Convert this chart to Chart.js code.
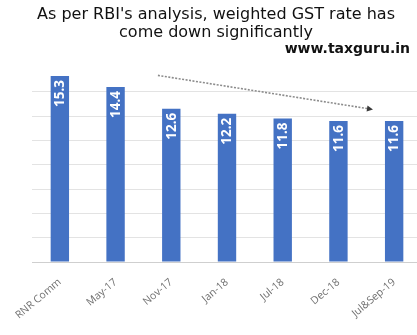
<!DOCTYPE html>
<html>
<head>
<meta charset="utf-8">
<script src="https://cdn.jsdelivr.net/npm/chart.js@4/dist/chart.umd.min.js"></script>
<style>
  html, body { margin: 0; padding: 0; background: #ffffff; overflow: hidden; }
  #wrap { position: relative; width: 417px; height: 335px; overflow: hidden; }
  #wrap canvas { position: absolute; left: 0; top: 0; }
</style>
</head>
<body>
<div id="wrap"><canvas id="c" width="422" height="335"></canvas></div>
<script>
// ---- data ----
const categories = ['RNR Comm', 'May-17', 'Nov-17', 'Jan-18', 'Jul-18', 'Dec-18', 'Jul&Sep-19'];
const rates = [15.3, 14.4, 12.6, 12.2, 11.8, 11.6, 11.6];
const titleLines = ["As per RBI's analysis, weighted GST rate has", 'come down significantly'];
const watermark = 'www.taxguru.in';
const yTicks = [0, 2, 4, 6, 8, 10, 12, 14, 16];
// trend arrow endpoints in data coordinates [category index, value]
const arrowStart = [1.76, 15.35];
const arrowEnd = [5.62, 12.55];

const TITLE_FONT = 'Verdana, "DejaVu Sans", sans-serif';
const SANS = '"Noto Sans", sans-serif';

const barLabels = {
  id: 'barLabels',
  afterDatasetsDraw(chart) {
    const ctx = chart.ctx;
    const meta = chart.getDatasetMeta(0);
    ctx.save();
    ctx.fillStyle = '#ffffff';
    ctx.font = 'bold 13.5px ' + SANS;
    ctx.textAlign = 'right';
    ctx.textBaseline = 'middle';
    meta.data.forEach((bar, i) => {
      ctx.save();
      ctx.translate(bar.x + 0.5, bar.y + 4);
      ctx.rotate(-Math.PI / 2);
      ctx.fillText(rates[i].toFixed(1), 0, 0);
      ctx.restore();
    });
    ctx.restore();
  }
};

const trendArrow = {
  id: 'trendArrow',
  afterDatasetsDraw(chart) {
    const ctx = chart.ctx;
    const xs = chart.scales.x, ys = chart.scales.y;
    const x1 = xs.getPixelForValue(arrowStart[0]), y1 = ys.getPixelForValue(arrowStart[1]);
    const x2 = xs.getPixelForValue(arrowEnd[0]), y2 = ys.getPixelForValue(arrowEnd[1]);
    const ang = Math.atan2(y2 - y1, x2 - x1);
    ctx.save();
    ctx.strokeStyle = '#8c8c8c';
    ctx.lineWidth = 1.6;
    ctx.setLineDash([2, 1.5]);
    ctx.beginPath();
    ctx.moveTo(x1, y1);
    ctx.lineTo(x2 - 4 * Math.cos(ang), y2 - 4 * Math.sin(ang));
    ctx.stroke();
    ctx.setLineDash([]);
    ctx.fillStyle = '#3a3a3a';
    ctx.beginPath();
    ctx.moveTo(x2, y2);
    ctx.lineTo(x2 - 6 * Math.cos(ang) + 3 * Math.sin(ang), y2 - 6 * Math.sin(ang) - 3 * Math.cos(ang));
    ctx.lineTo(x2 - 6 * Math.cos(ang) - 3 * Math.sin(ang), y2 - 6 * Math.sin(ang) + 3 * Math.cos(ang));
    ctx.closePath();
    ctx.fill();
    ctx.restore();
  }
};

const watermarkPlugin = {
  id: 'watermark',
  afterDraw(chart) {
    const ctx = chart.ctx;
    ctx.save();
    ctx.fillStyle = '#111111';
    ctx.font = 'bold 14px ' + TITLE_FONT;
    ctx.textAlign = 'right';
    ctx.textBaseline = 'alphabetic';
    ctx.fillText(watermark, 410, 53);
    ctx.restore();
  }
};

new Chart(document.getElementById('c'), {
  type: 'bar',
  data: {
    labels: categories,
    datasets: [{
      data: rates,
      backgroundColor: '#4472C4',
      borderWidth: 0,
      barPercentage: 0.33,
      categoryPercentage: 1.0
    }]
  },
  options: {
    responsive: false,
    animation: false,
    layout: { padding: { top: 5, left: 10, right: 0, bottom: 0 } },
    plugins: {
      legend: { display: false },
      tooltip: { enabled: false },
      title: {
        display: true,
        text: titleLines,
        color: '#111111',
        font: { family: TITLE_FONT, size: 16, weight: 'normal', lineHeight: 1.125 },
        padding: { top: 0.5, bottom: 26 }
      }
    },
    scales: {
      x: {
        grid: { display: false },
        border: { display: false },
        ticks: {
          minRotation: 40,
          maxRotation: 40,
          color: '#6f6f6f',
          padding: 6,
          font: { family: '"Open Sans", sans-serif', size: 10.5 }
        },
        afterFit(s) { s.height = 73; }
      },
      y: {
        min: 0,
        max: 16,
        afterBuildTicks(s) { s.ticks = yTicks.map(v => ({ value: v })); },
        ticks: { display: false },
        border: { display: false },
        grid: {
          color: (c) => c.tick && c.tick.value === 16 ? 'rgba(0,0,0,0)' : (c.tick && c.tick.value === 0 ? '#cfcfcf' : '#e3e3e3'),
          lineWidth: 1,
          drawTicks: false
        },
        afterFit(s) { s.width = 22; }
      }
    }
  },
  plugins: [barLabels, trendArrow, watermarkPlugin]
});
</script>
</body>
</html>
